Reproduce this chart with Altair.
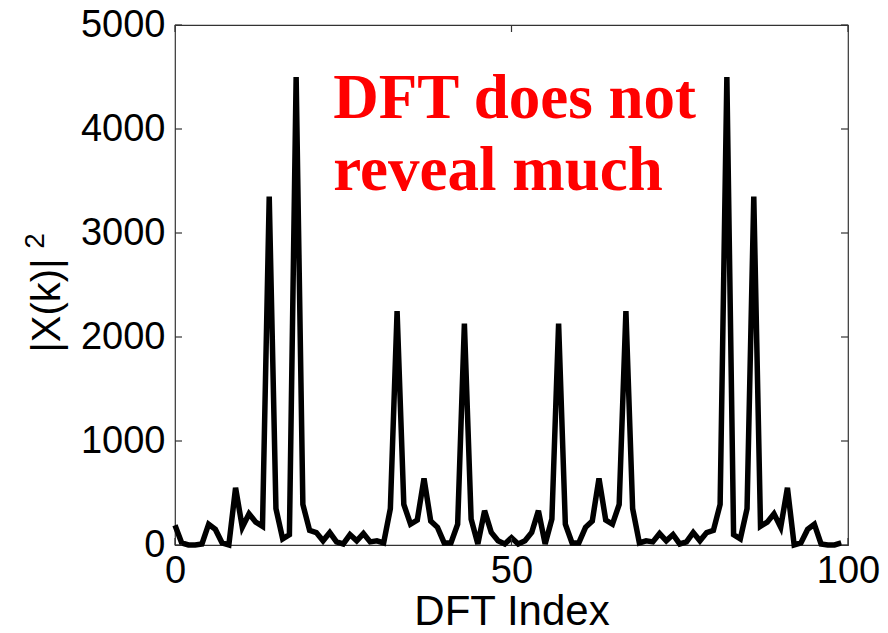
import altair as alt
import pandas as pd

# DFT index and power spectrum |X(k)|^2
k_index = list(range(100))
power = [190, 20, 0, 0, 10, 200, 150, 20, 0, 550,
         170, 300, 220, 180, 3350, 350, 60, 100, 4500, 390,
         140, 120, 40, 120, 30, 10, 100, 40, 110, 30,
         40, 20, 350, 2250, 390, 200, 240, 640, 230, 170,
         20, 20, 200, 2130, 250, 10, 330, 120, 40, 10,
         70, 10, 40, 120, 330, 10, 250, 2130, 200, 20,
         20, 170, 230, 640, 240, 200, 390, 2250, 350, 20,
         40, 30, 110, 40, 100, 10, 30, 120, 40, 120,
         140, 390, 4500, 100, 60, 350, 3350, 180, 220, 300,
         170, 550, 0, 20, 150, 200, 10, 0, 0, 20]

x_ticks = [0, 50, 100]
y_ticks = [0, 1000, 2000, 3000, 4000, 5000]

note_lines = ["DFT does not", "reveal much"]
note_x = [23.5, 23.5]
note_y = [4105, 3415]

y_title = "|X(k)|"
y_title_sup = ["2"]

df = pd.DataFrame({"k": k_index, "power": power})
df_xt = pd.DataFrame({"k": x_ticks})
df_yt = pd.DataFrame({"power": y_ticks})
df_note = pd.DataFrame({"k": note_x, "power": note_y, "text": note_lines})
df_sup = pd.DataFrame({"text": y_title_sup})

W, H = 673, 520
FONT = "Liberation Sans"
FRAME = "#333333"

x_enc = alt.X(
    "k:Q",
    scale=alt.Scale(domain=[0, 100], nice=False, zero=False),
    axis=alt.Axis(
        values=x_ticks, format="d", ticks=False, domain=False, grid=False,
        labelFont=FONT, labelFontSize=38, labelColor="black", labelPadding=7,
        labelFlush=False,
        title="DFT Index", titleFont=FONT, titleFontSize=42,
        titleFontWeight="normal", titleColor="black",
        titleBaseline="alphabetic", titleY=79, titleX=W / 2,
    ),
)
y_enc = alt.Y(
    "power:Q",
    scale=alt.Scale(domain=[0, 5000], nice=False),
    axis=alt.Axis(
        values=y_ticks, format="d", ticks=False, domain=False, grid=False,
        labelFont=FONT, labelFontSize=38, labelColor="black", labelPadding=10,
        labelFlush=False,
        title=y_title, titleFont=FONT, titleFontSize=40,
        titleFontWeight="normal", titleColor="black",
        titleBaseline="alphabetic", titleAlign="center",
        titleX=-116, titleY=280, titleAngle=270,
    ),
)

line = alt.Chart(df).mark_line(color="black", strokeWidth=5.5, strokeJoin="miter").encode(
    x=x_enc, y=y_enc
)

ytick_left = alt.Chart(df_yt).mark_rule(color=FRAME, strokeWidth=1.2).encode(
    y=y_enc, x=alt.value(0), x2=alt.value(7)
)
ytick_right = alt.Chart(df_yt).mark_rule(color=FRAME, strokeWidth=1.2).encode(
    y=y_enc, x=alt.value(W), x2=alt.value(W - 7)
)
xtick_top = alt.Chart(df_xt).mark_rule(color=FRAME, strokeWidth=1.2).encode(
    x=x_enc, y=alt.value(0), y2=alt.value(7)
)
xtick_bottom = alt.Chart(df_xt).mark_rule(color=FRAME, strokeWidth=1.2).encode(
    x=x_enc, y=alt.value(H), y2=alt.value(H - 7)
)

note = alt.Chart(df_note).mark_text(
    align="left", baseline="alphabetic", font="Liberation Serif",
    fontWeight="bold", fontSize=63, color="#ff0000"
).encode(x=x_enc, y=y_enc, text="text:N")

sup = alt.Chart(df_sup).mark_text(
    align="center", baseline="alphabetic", font=FONT, fontSize=28,
    color="black", angle=270
).encode(x=alt.value(-131), y=alt.value(216), text="text:N")

chart = (
    alt.layer(line, ytick_left, ytick_right, xtick_top, xtick_bottom, note, sup)
    .properties(
        width=W, height=H,
        autosize=alt.AutoSizeParams(type="none"),
        padding={"left": 175, "top": 25, "right": 40, "bottom": 88},
        background="white",
    )
    .configure_view(stroke=FRAME, strokeWidth=1.2)
)

chart.save("out.html", embed_options={"renderer": "svg", "actions": False})
